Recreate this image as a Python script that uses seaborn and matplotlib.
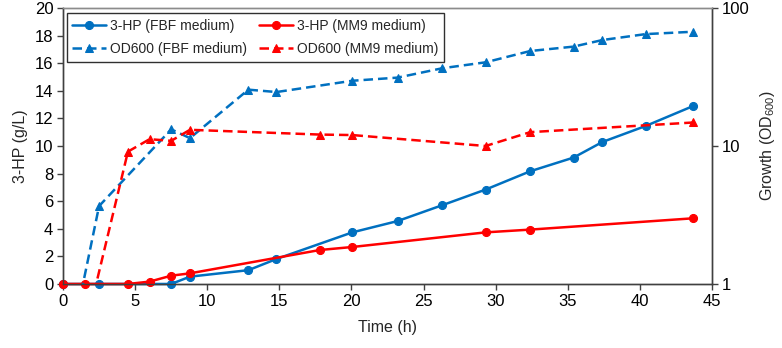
import numpy as np
import pandas as pd
import seaborn as sns
from matplotlib import pyplot as plt
from matplotlib.ticker import FixedLocator, NullLocator, FixedFormatter

# 3-HP titer (g/L)
t_fbf = [0, 2.5, 7.5, 8.8, 12.85, 14.8, 20.06, 23.2, 26.3, 29.3, 32.4, 35.4, 37.4, 40.4, 43.7]
hp_fbf = [0, 0, 0, 0.53, 1.0, 1.81, 3.74, 4.56, 5.71, 6.84, 8.17, 9.16, 10.29, 11.45, 12.9]
t_mm9 = [0, 1.5, 4.5, 6.0, 7.5, 8.8, 17.8, 20.06, 29.3, 32.4, 43.7]
hp_mm9 = [0, 0, 0, 0.17, 0.6, 0.77, 2.46, 2.68, 3.74, 3.94, 4.76]

# OD600 (log axis), first value sits below the axis floor
t_od_fbf = [0, 2.5, 7.5, 8.8, 12.85, 14.8, 20.06, 23.2, 26.3, 29.3, 32.4, 35.4, 37.4, 40.4, 43.7]
od_fbf = [0.2, 3.67, 13.2, 11.4, 25.6, 24.6, 29.7, 31.3, 36.6, 40.4, 48.8, 52.5, 58.6, 64.7, 67.3]
t_od_mm9 = [0, 4.5, 6.0, 7.5, 8.8, 17.8, 20.06, 29.3, 32.4, 43.7]
od_mm9 = [0.1, 9.1, 11.2, 10.9, 13.1, 12.1, 12.0, 10.0, 12.6, 14.8]

labels = ['3-HP (FBF medium)', 'OD600 (FBF medium)', '3-HP (MM9 medium)', 'OD600 (MM9 medium)']

BLUE = '#0070C0'
RED = '#FF0000'

sns.set_style("ticks")
plt.rcParams['font.family'] = ['Liberation Sans', 'DejaVu Sans']
plt.rcParams['mathtext.fontset'] = 'custom'
plt.rcParams['mathtext.rm'] = 'Liberation Sans'
plt.rcParams['mathtext.it'] = 'Liberation Sans'

fig = plt.figure(figsize=(7.82, 3.48), dpi=100)
ax1 = fig.add_axes([0.0806, 0.184, 0.8299, 0.793])
ax2 = ax1.twinx()

spine_c = '#404040'
dash = (0, (3.8, 2.0))

sns.lineplot(x=t_fbf, y=hp_fbf, ax=ax1, color=BLUE, lw=1.8, marker='o', ms=5.8,
             mec=BLUE, mfc=BLUE, clip_on=False, zorder=3)
sns.lineplot(x=t_mm9, y=hp_mm9, ax=ax1, color=RED, lw=1.8, marker='o', ms=5.8,
             mec=RED, mfc=RED, clip_on=False, zorder=4)
sns.lineplot(x=t_od_fbf, y=od_fbf, ax=ax2, color=BLUE, lw=1.8, marker='^', ms=6,
             mec=BLUE, mfc=BLUE, linestyle=dash)
sns.lineplot(x=t_od_mm9, y=od_mm9, ax=ax2, color=RED, lw=1.8, marker='^', ms=6,
             mec=RED, mfc=RED, linestyle=dash)

ax1.set_xlim(0, 45)
ax1.set_ylim(0, 20)
ax1.set_xticks(range(0, 50, 5))
ax1.set_yticks(range(0, 22, 2))
ax1.set_xlabel('Time (h)', fontsize=11.5, labelpad=8)
ax1.set_ylabel('3-HP (g/L)', fontsize=11.5, labelpad=5)

ax2.set_yscale('log')
ax2.set_ylim(1, 100)
ax2.yaxis.set_major_locator(FixedLocator([1, 10, 100]))
ax2.yaxis.set_major_formatter(FixedFormatter(['1', '10', '100']))
ax2.yaxis.set_minor_locator(NullLocator())
ax2.set_ylabel('Growth (OD$_{600}$)', fontsize=11.5, labelpad=6)
ax2.set_xlim(0, 45)

for ax in (ax1, ax2):
    for s in ax.spines.values():
        s.set_color(spine_c)
        s.set_linewidth(1.0)
    ax.tick_params(axis='both', which='major', labelsize=12, length=4, width=1.0,
                   color=spine_c, labelcolor='black', pad=3)
ax1.spines['top'].set_color('#8c8c8c')
ax2.spines['top'].set_color('#8c8c8c')

handles = [ax1.get_lines()[0], ax2.get_lines()[0], ax1.get_lines()[1], ax2.get_lines()[1]]
leg = ax2.legend(handles, labels, ncol=2, loc='upper left', bbox_to_anchor=(0.006, 0.982),
                 fontsize=10, handlelength=2.4, columnspacing=0.9, handletextpad=0.3,
                 borderpad=0.4, borderaxespad=0, labelspacing=0.7, fancybox=False,
                 framealpha=1)
leg.get_frame().set_edgecolor('#303030')
leg.get_frame().set_linewidth(1.0)

fig.savefig('out.png', dpi=100)
